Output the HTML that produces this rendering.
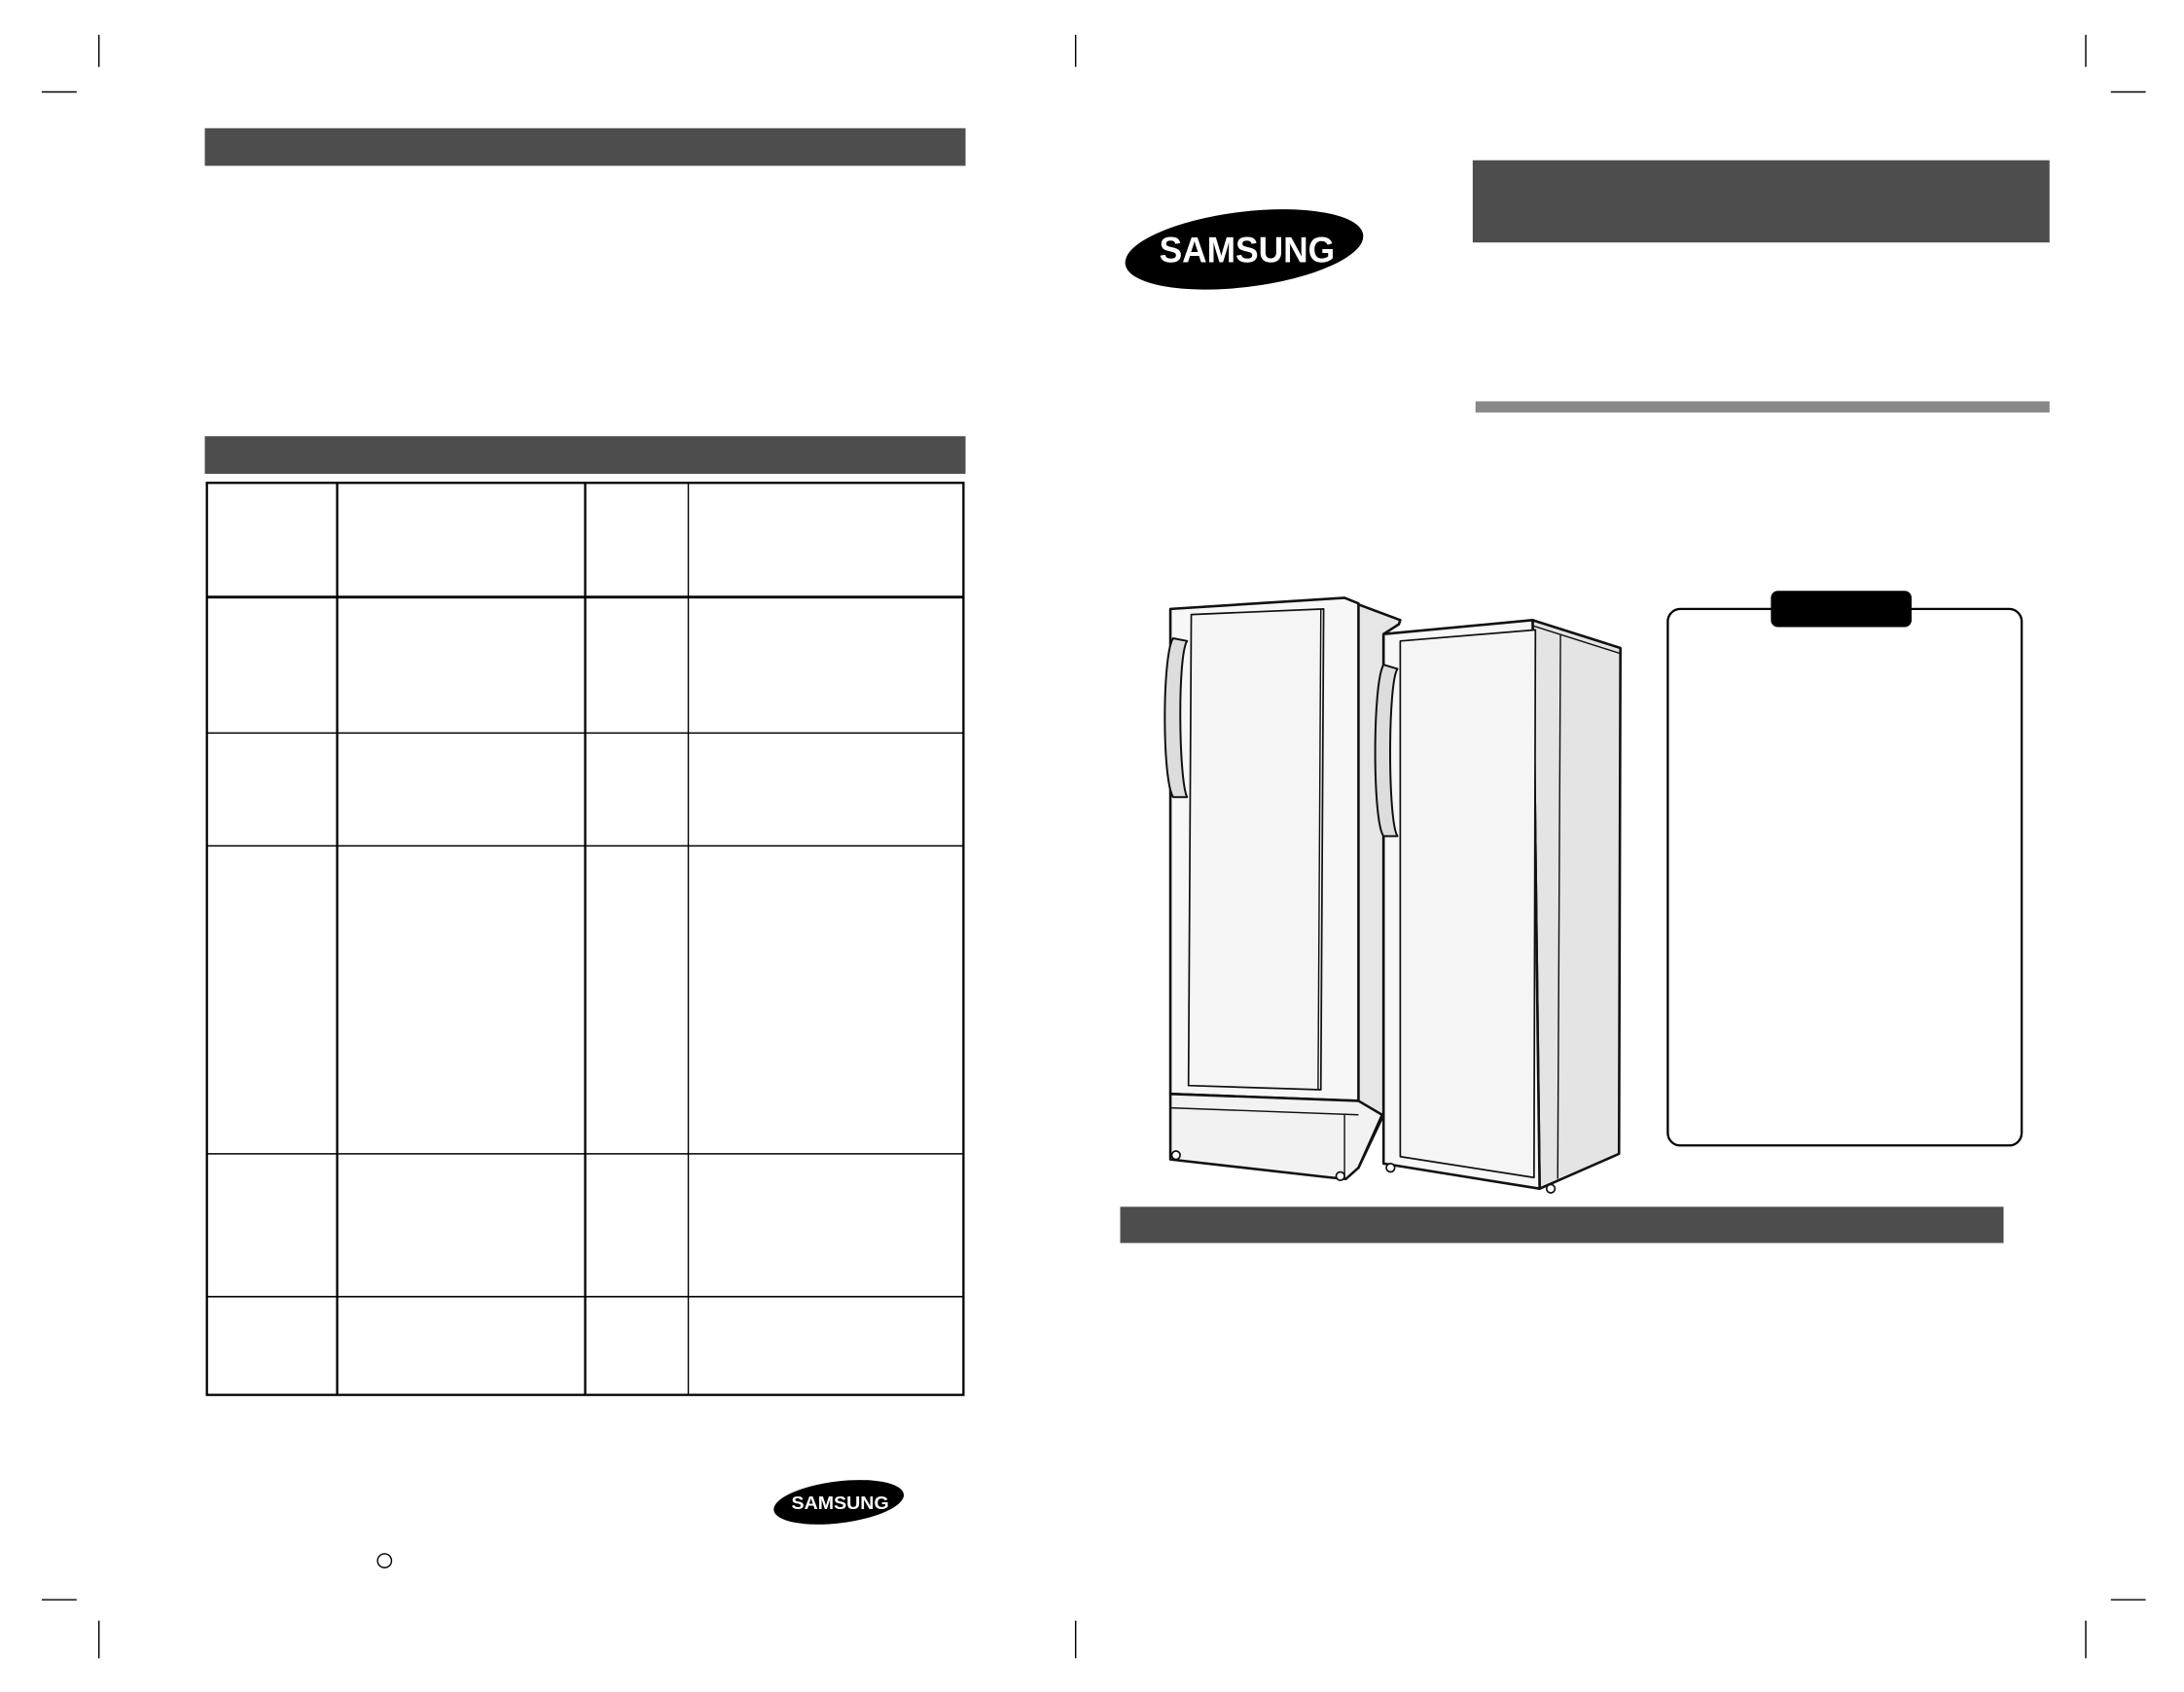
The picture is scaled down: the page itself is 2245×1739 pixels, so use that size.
<!DOCTYPE html>
<html><head><meta charset="utf-8"><style>html,body{margin:0;padding:0;background:#fff}svg{display:block}</style></head>
<body>
<svg width="2245" height="1739" viewBox="0 0 1567.5 1214.2" preserveAspectRatio="none" xmlns="http://www.w3.org/2000/svg">
<rect width="1567.5" height="1214.2" fill="#fff"/>
<!-- crop marks -->
<g stroke="#000" stroke-width="1">
<line x1="71" y1="25" x2="71" y2="48"/><line x1="30" y1="66" x2="55" y2="66"/>
<line x1="772" y1="25" x2="772" y2="48"/>
<line x1="1497" y1="25" x2="1497" y2="48"/><line x1="1515" y1="66" x2="1540" y2="66"/>
<line x1="71" y1="1163" x2="71" y2="1190"/><line x1="30" y1="1148" x2="55" y2="1148"/>
<line x1="772" y1="1163" x2="772" y2="1190"/>
<line x1="1497" y1="1163" x2="1497" y2="1190"/><line x1="1515" y1="1148" x2="1540" y2="1148"/>
</g>
<!-- left page bars -->
<rect x="147" y="92" width="546" height="27" fill="#4d4d4d"/>
<rect x="147" y="313" width="546" height="27" fill="#4d4d4d"/>
<!-- table -->
<g stroke="#000" fill="none">
<rect x="148.5" y="346.5" width="543" height="654.5" stroke-width="1.6"/>
<line x1="242" y1="346" x2="242" y2="1001" stroke-width="1.6"/>
<line x1="420" y1="346" x2="420" y2="1001" stroke-width="1.6"/>
<line x1="494" y1="346" x2="494" y2="1001" stroke-width="1"/>
<line x1="148" y1="428.5" x2="692" y2="428.5" stroke-width="2"/>
<line x1="148" y1="526" x2="692" y2="526" stroke-width="1"/>
<line x1="148" y1="607" x2="692" y2="607" stroke-width="1"/>
<line x1="148" y1="828" x2="692" y2="828" stroke-width="1"/>
<line x1="148" y1="930.5" x2="692" y2="930.5" stroke-width="1.2"/>
</g>
<!-- small logo -->
<ellipse cx="602" cy="1078" rx="47" ry="15" transform="rotate(-7 602 1078)" fill="#000"/>
<text x="568" y="1083" font-family="Liberation Sans Narrow, Liberation Sans, sans-serif" font-weight="bold" font-size="13" fill="#fff" textLength="70" lengthAdjust="spacingAndGlyphs">SAMSUNG</text>
<circle cx="276" cy="1120" r="5" fill="none" stroke="#000" stroke-width="1"/>
<!-- big logo -->
<ellipse cx="893" cy="179" rx="86" ry="27" transform="rotate(-7 893 179)" fill="#000"/>
<text x="832" y="188" font-family="Liberation Sans Narrow, Liberation Sans, sans-serif" font-weight="bold" font-size="26" fill="#fff" textLength="126" lengthAdjust="spacingAndGlyphs">SAMSUNG</text>
<!-- right page bars -->
<rect x="1057" y="115" width="414" height="59" fill="#4d4d4d"/>
<rect x="1059" y="288" width="412" height="8" fill="#888"/>
<rect x="804" y="866" width="634" height="26" fill="#4d4d4d"/>
<!-- notice box -->
<rect x="1197" y="437" width="254" height="385" rx="9" fill="#fff" stroke="#000" stroke-width="1.6"/>
<rect x="1271" y="424" width="101" height="26" rx="5" fill="#000"/>
<!-- left fridge -->
<g stroke="#111" stroke-width="1.8" stroke-linejoin="round" fill="#f7f7f7">
<path d="M965 430 L1005 445 L1004 448 L993 455 L993 800 L975 838 L966 836 L974 790 L974 433 Z" fill="#e6e6e6"/>
<path d="M840 437 L965 429 L975 433 L975 790 L840 785 Z"/>
<path d="M840 785 L975 790 L992 800 L975 838 L966 846 L955 845 L840 832 Z" fill="#f2f2f2"/>
<line x1="840" y1="795" x2="975" y2="800" stroke-width="1"/>
<line x1="965" y1="800" x2="965" y2="845" stroke-width="1"/>
<path d="M855 441 L950 437 L948 782 L853 779 Z" fill="#f5f5f5" stroke-width="1.2"/>
<line x1="948" y1="437" x2="946" y2="782" stroke-width="1"/>
<path d="M842 458 C834 470 834 560 842 572 L852 572 C846 560 845 470 852 460 Z" fill="#ddd" stroke-width="1.4"/>
<circle cx="844" cy="829" r="3" fill="#fff" stroke-width="1.2"/>
<circle cx="962" cy="844" r="3" fill="#fff" stroke-width="1.2"/>
</g>
<!-- right fridge -->
<g stroke="#111" stroke-width="1.8" stroke-linejoin="round" fill="#f7f7f7">
<path d="M1100 445 L1163 465 L1162 828 L1105 853 Z" fill="#e4e4e4"/>
<line x1="1100" y1="449" x2="1163" y2="469" stroke-width="1"/>
<line x1="1120" y1="455" x2="1118" y2="846" stroke-width="1"/>
<path d="M993 455 L1100 445 L1105 853 L993 835 Z"/>
<path d="M1005 460 L1102 452 L1101 845 L1005 830 Z" fill="#f5f5f5" stroke-width="1.2"/>
<path d="M993 477 C985 490 985 590 993 600 L1003 600 C996 590 996 490 1003 480 Z" fill="#ddd" stroke-width="1.4"/>
<circle cx="998" cy="838" r="3" fill="#fff" stroke-width="1.2"/>
<circle cx="1113" cy="853" r="3" fill="#fff" stroke-width="1.2"/>
</g>
</svg>
</body></html>
